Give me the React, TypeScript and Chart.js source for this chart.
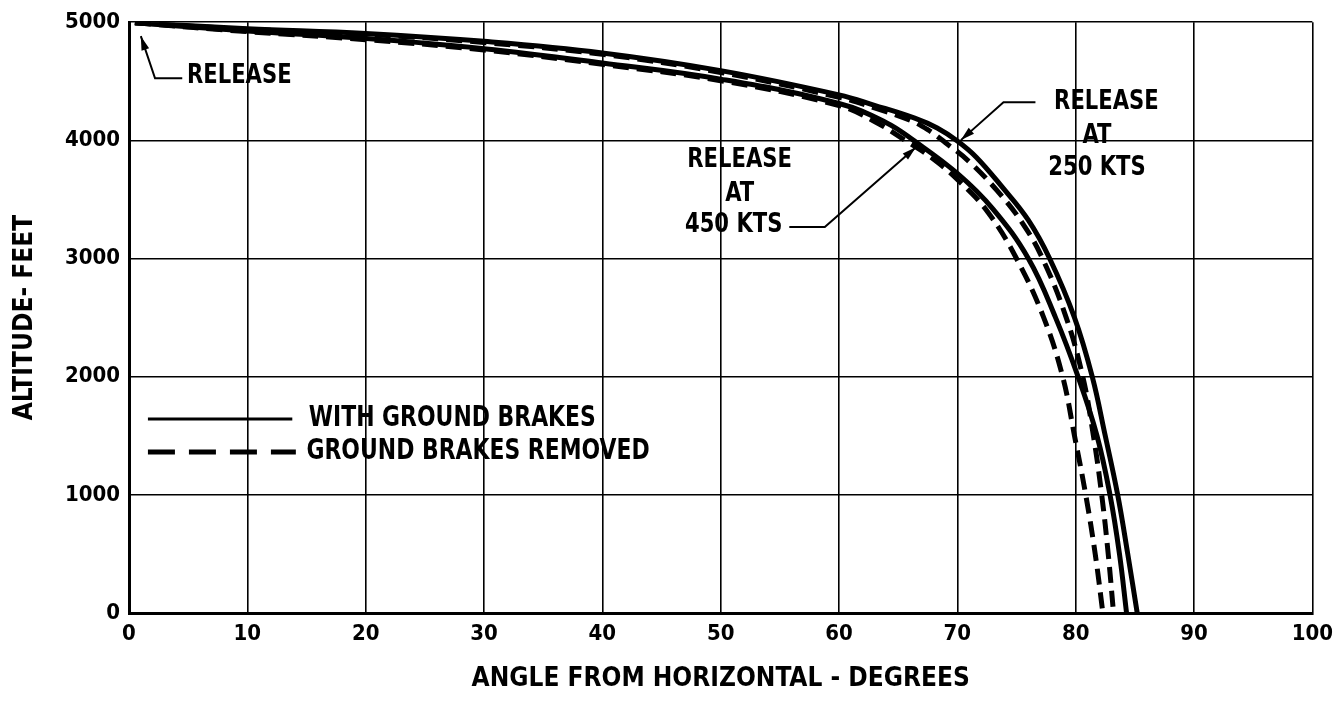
import React, { useEffect, useRef } from "react";
import { Chart, registerables } from "chart.js";

Chart.register(...registerables);

// ---- axis ticks ----
const xTickValues = [0, 10, 20, 30, 40, 50, 60, 70, 80, 90, 100];
const yTickValues = [0, 1000, 2000, 3000, 4000, 5000];

// ---- series: angle from horizontal (deg) vs altitude (ft) ----
// release at 250 kts, with ground brakes (solid)
const brakes250Angle = [0.5, 10, 20, 30, 40, 50, 60, 63, 66.4, 68.3, 70, 71.6, 73.8, 76.0, 77.8, 79.9, 81.4, 82.5, 83.55, 84.4, 85.2];
const brakes250Alt = [4995, 4945, 4905, 4838, 4740, 4590, 4385, 4297, 4188, 4105, 3995, 3858, 3604, 3325, 3000, 2500, 2000, 1500, 1000, 500, 0];
// release at 250 kts, ground brakes removed (dashed)
const removed250Angle = [0.5, 10, 20, 30, 40, 50, 60, 63, 66, 67.5, 69, 71, 73.4, 75.5, 77.2, 79.2, 80.6, 81.5, 82.2, 82.75, 83.2];
const removed250Alt = [4995, 4940, 4898, 4828, 4728, 4575, 4365, 4275, 4170, 4090, 3980, 3820, 3570, 3300, 3000, 2500, 2000, 1500, 1000, 500, 0];
// release at 450 kts, with ground brakes (solid)
const brakes450Angle = [0.5, 10, 20, 30, 40, 50, 60, 64, 66.3, 70, 73, 76, 78.3, 80.2, 81.8, 82.9, 83.7, 84.3];
const brakes450Alt = [4995, 4925, 4862, 4776, 4655, 4518, 4312, 4150, 4000, 3720, 3420, 3000, 2500, 2000, 1500, 1000, 500, 0];
// release at 450 kts, ground brakes removed (dashed)
const removed450Angle = [0.5, 10, 20, 30, 40, 50, 60, 63, 65.6, 68, 70.2, 72.6, 75, 77.3, 78.9, 79.9, 80.85, 81.65, 82.3];
const removed450Alt = [4995, 4920, 4852, 4765, 4643, 4505, 4295, 4160, 4000, 3840, 3650, 3390, 3000, 2500, 2000, 1500, 1000, 500, 0];

// ---- legend ----
const legendLabels = ["WITH GROUND BRAKES", "GROUND BRAKES REMOVED"];
const legendDashed = [false, true];
const legendAlt = [1641, 1362];
const legendLineFrom = [1.6, 1.6];
const legendLineTo = [13.8, 14.1];
const legendTextAt = [15.2, 15.0];

// ---- annotation texts (data coordinates) ----
const noteTexts = ["RELEASE", "RELEASE", "AT", "450 KTS", "RELEASE", "AT", "250 KTS"];
const noteAngle = [4.9, 51.6, 51.6, 51.1, 82.6, 81.8, 81.8];
const noteAlt = [4543, 3832, 3545, 3283, 4323, 4036, 3765];
const noteAlign: CanvasTextAlign[] = ["left", "center", "center", "center", "center", "center", "center"];

// leader lines: last point is the arrow tip
const leaderRelease = [[4.5, 4526], [2.2, 4526], [1.0, 4882]];
const leader450 = [[55.8, 3266], [58.8, 3266], [66.5, 3942]];
const leader250 = [[76.6, 4323], [73.9, 4323], [70.3, 4002]];
const leaders = [leaderRelease, leader450, leader250];

const FONT = "'Liberation Sans Narrow', 'DejaVu Sans Condensed', 'Arial Narrow', sans-serif";
const INK = "#000000";
const SQUEEZE = 0.87;

function toPoints(xs: number[], ys: number[]) {
  return xs.map((x, i) => ({ x, y: ys[i] }));
}

function squeezedText(ctx: CanvasRenderingContext2D, text: string, x: number, y: number, align: CanvasTextAlign) {
  ctx.save();
  ctx.translate(x, y);
  ctx.scale(SQUEEZE, 1);
  ctx.textAlign = align;
  ctx.textBaseline = "middle";
  ctx.fillText(text, 0, 0);
  ctx.restore();
}

const annotationPlugin = {
  id: "annotations",
  afterDatasetsDraw(chart: any) {
    const { ctx } = chart;
    const xs = chart.scales.x;
    const ys = chart.scales.y;
    const px = (v: number) => xs.getPixelForValue(v);
    const py = (v: number) => ys.getPixelForValue(v);
    ctx.save();
    ctx.fillStyle = INK;
    ctx.strokeStyle = INK;

    // texts
    ctx.font = `bold 27px ${FONT}`;
    noteTexts.forEach((t, i) => {
      squeezedText(ctx, t, px(noteAngle[i]), py(noteAlt[i]), noteAlign[i]);
    });

    // leaders with arrowheads
    ctx.lineWidth = 2;
    ctx.setLineDash([]);
    leaders.forEach((pts) => {
      ctx.beginPath();
      pts.forEach((p, i) => {
        const X = px(p[0]);
        const Y = py(p[1]);
        if (i === 0) ctx.moveTo(X, Y);
        else ctx.lineTo(X, Y);
      });
      ctx.stroke();
      const a = pts[pts.length - 2];
      const b = pts[pts.length - 1];
      const ax = px(a[0]), ay = py(a[1]), bx = px(b[0]), by = py(b[1]);
      const ang = Math.atan2(by - ay, bx - ax);
      const len = 14, half = 4;
      ctx.beginPath();
      ctx.moveTo(bx, by);
      ctx.lineTo(bx - len * Math.cos(ang) + half * Math.sin(ang), by - len * Math.sin(ang) - half * Math.cos(ang));
      ctx.lineTo(bx - len * Math.cos(ang) - half * Math.sin(ang), by - len * Math.sin(ang) + half * Math.cos(ang));
      ctx.closePath();
      ctx.fill();
    });

    // legend
    legendLabels.forEach((label, i) => {
      const Y = py(legendAlt[i]);
      ctx.beginPath();
      ctx.lineWidth = legendDashed[i] ? 5 : 3;
      ctx.setLineDash(legendDashed[i] ? [27, 14] : []);
      ctx.moveTo(px(legendLineFrom[i]), Y);
      ctx.lineTo(px(legendLineTo[i]), Y);
      ctx.stroke();
      ctx.setLineDash([]);
      ctx.font = `bold 28px ${FONT}`;
      squeezedText(ctx, label, px(legendTextAt[i]), Y, "left");
    });
    ctx.restore();
  },
};

export default function App() {
  const canvasRef = useRef<HTMLCanvasElement | null>(null);

  useEffect(() => {
    if (!canvasRef.current) return;
    const solid = { borderColor: INK, borderWidth: 5, pointRadius: 0, showLine: true, fill: false, tension: 0.4 };
    const dashed = { ...solid, borderDash: [16, 8] };
    const chart = new Chart(canvasRef.current, {
      type: "scatter",
      data: {
        datasets: [
          { label: "WITH GROUND BRAKES – 250 KTS", data: toPoints(brakes250Angle, brakes250Alt), ...solid },
          { label: "GROUND BRAKES REMOVED – 250 KTS", data: toPoints(removed250Angle, removed250Alt), ...dashed },
          { label: "WITH GROUND BRAKES – 450 KTS", data: toPoints(brakes450Angle, brakes450Alt), ...solid },
          { label: "GROUND BRAKES REMOVED – 450 KTS", data: toPoints(removed450Angle, removed450Alt), ...dashed },
        ],
      },
      options: {
        animation: false,
        responsive: false,
        layout: { padding: { top: 22, right: 23, left: 0, bottom: 0 } },
        plugins: { legend: { display: false }, tooltip: { enabled: false } },
        scales: {
          x: {
            type: "linear",
            min: 0,
            max: 100,
            afterFit: (s: any) => { s.height = 99; },
            afterBuildTicks: (s: any) => { s.ticks = xTickValues.map((v) => ({ value: v })); },
            ticks: { color: INK, padding: 8, font: { family: FONT, size: 22, weight: "bold" }, callback: (v: any) => String(v), maxRotation: 0 },
            grid: { color: INK, lineWidth: 1.6, drawTicks: false },
            border: { color: INK, width: 3 },
            title: { display: true, text: "ANGLE FROM HORIZONTAL - DEGREES", color: INK, font: { family: FONT, size: 26, weight: "bold" }, padding: { top: 0, bottom: 17 } },
          },
          y: {
            type: "linear",
            min: 0,
            max: 5000,
            afterFit: (s: any) => { s.width = 129; },
            afterBuildTicks: (s: any) => { s.ticks = yTickValues.map((v) => ({ value: v })); },
            ticks: { color: INK, padding: 9, font: { family: FONT, size: 22, weight: "bold" }, callback: (v: any) => String(v) },
            grid: { color: INK, lineWidth: 1.6, drawTicks: false },
            border: { color: INK, width: 3 },
            title: { display: true, text: "ALTITUDE- FEET", color: INK, font: { family: FONT, size: 26, weight: "bold" }, padding: { top: 10, bottom: 0 } },
          },
        },
      },
      plugins: [annotationPlugin],
    });
    return () => chart.destroy();
  }, []);

  return (
    <div style={{ position: "absolute", left: 0, top: 0, width: 1341, height: 712, background: "#ffffff" }}>
      <canvas ref={canvasRef} width={1341} height={712} style={{ display: "block" }} />
    </div>
  );
}
